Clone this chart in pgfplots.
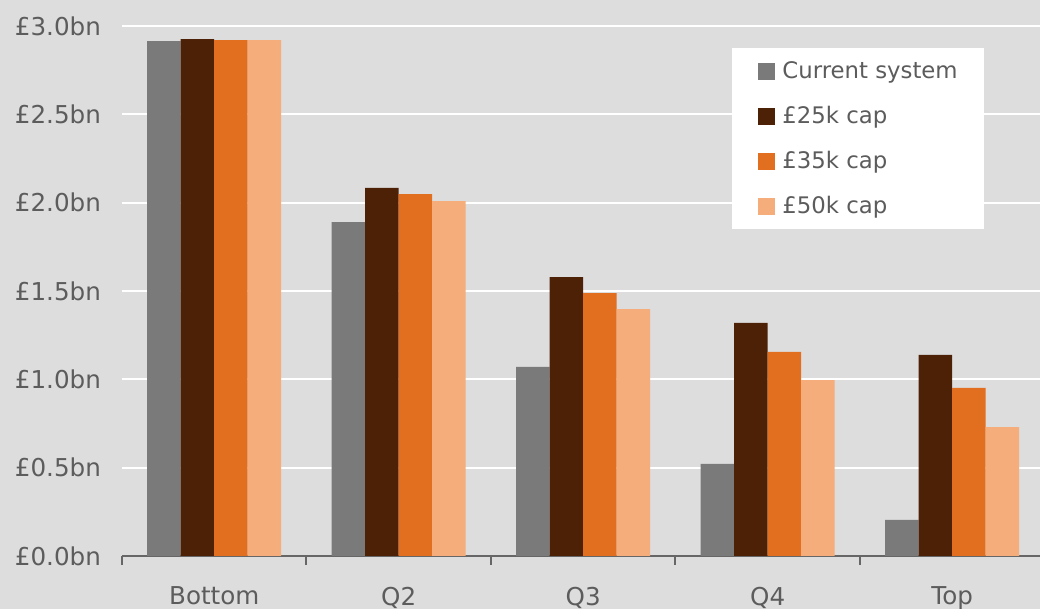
\documentclass[border=0pt]{standalone}
\usepackage{fontspec}
\setmainfont{DejaVu Sans}
\usepackage{pgfplots}
\pgfplotsset{compat=1.18}

\definecolor{bg}{HTML}{DDDDDD}
\definecolor{txt}{HTML}{5C5C5C}
\definecolor{axisgrey}{HTML}{666666}
\definecolor{cur}{HTML}{7A7A7A}
\definecolor{capA}{HTML}{4D2106}
\definecolor{capB}{HTML}{E26E1F}
\definecolor{capC}{HTML}{F5AD7C}

\pgfplotsset{
  sq/.style={legend image code/.code={\fill[##1] (0pt,-4.25pt) rectangle (8.5pt,4.25pt);}},
}

\begin{document}
\begin{tikzpicture}
\fill[bg] (0,0) rectangle (520pt,304.5pt);
\begin{axis}[
    at={(61pt,26.5pt)}, anchor=south west,
    scale only axis,
    width=459pt, height=265pt,
    ybar=0pt, bar width=16.75pt,
    xmin=-0.5, xmax=4.476,
    ymin=0, ymax=3,
    axis x line*=bottom,
    axis y line*=left,
    y axis line style={draw=none},
    x axis line style={draw=axisgrey, line width=1pt, -},
    tick align=outside,
    major tick length=0pt,
    xtick={0,1,2,3,4},
    xticklabels={Bottom,Q2,Q3,Q4,Top},
    xtick style={draw=axisgrey, line width=1pt},
    extra x ticks={-0.5,0.5,1.5,2.5,3.5},
    extra x tick labels={},
    extra x tick style={major tick length=4.5pt},
    ytick={0,0.5,1,1.5,2,2.5,3},
    ytick style={draw=none},
    yticklabel={£\pgfmathprintnumber[fixed,fixed zerofill,precision=1]{\tick}bn},
    /pgf/number format/assume math mode=true,
    ymajorgrids,
    grid style={white, line width=1pt},
    tick label style={font=\fontsize{12.3}{14}\selectfont, text=txt},
    yticklabel style={xshift=-7pt},
    xticklabel style={yshift=-12pt},
    legend style={at={(0.6645,0.9585)}, anchor=north west, fill=white, draw=none,
      font=\fontsize{11.4}{13}\selectfont, text=txt,
      inner xsep=13pt, inner ysep=6pt, row sep=11.5pt,
      nodes={inner sep=0pt, text height=9pt, text depth=2pt},
      /tikz/every odd column/.append style={column sep=3.5pt}},
    legend cell align=left,
]
\addplot[fill=cur, draw=none, sq] coordinates {(0,2.915) (1,1.890) (2,1.070) (3,0.521) (4,0.204)};
\addplot[fill=capA, draw=none, sq] coordinates {(0,2.926) (1,2.083) (2,1.579) (3,1.319) (4,1.138)};
\addplot[fill=capB, draw=none, sq] coordinates {(0,2.920) (1,2.049) (2,1.488) (3,1.155) (4,0.951)};
\addplot[fill=capC, draw=none, sq] coordinates {(0,2.920) (1,2.009) (2,1.398) (3,0.996) (4,0.730)};
\legend{Current system,£25k cap,£35k cap,£50k cap}
\end{axis}
\pgfresetboundingbox
\path (0,0) rectangle (520pt,304.5pt);
\end{tikzpicture}
\end{document}
